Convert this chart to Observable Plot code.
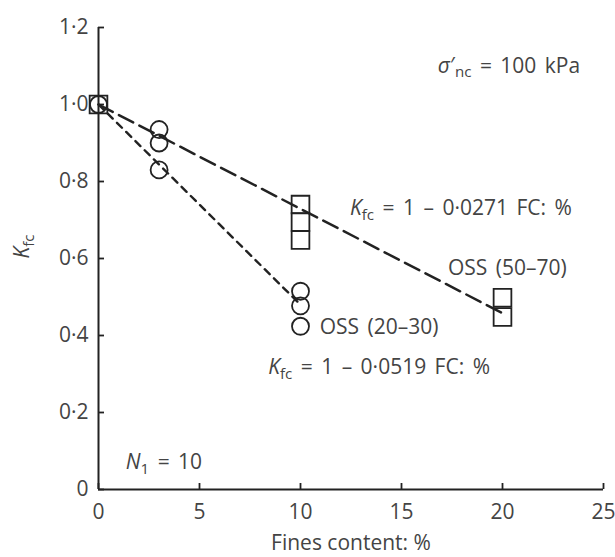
<!DOCTYPE html>
<html><head><meta charset="utf-8">
<script src="https://cdn.jsdelivr.net/npm/d3@7"></script>
<script src="https://cdn.jsdelivr.net/npm/@observablehq/plot@0.6"></script>
<style>
body{margin:0;background:#fff}
#chart svg{display:block}
</style>
</head><body><div id="chart"></div>
<script>
// ---- data ----
const squareFC = [0, 10, 10, 10, 20, 20];
const squareK  = [1.0, 0.74, 0.695, 0.648, 0.498, 0.448];
const circleFC = [0, 3, 3, 3, 10, 10, 10];
const circleK  = [1.0, 0.935, 0.90, 0.83, 0.515, 0.477, 0.424];
const fit50FC = [0, 20];
const fit50K  = [1.0, 0.458];
const fit20FC = [0, 10];
const fit20K  = [1.0, 0.48];
const xTicks = [0, 5, 10, 15, 20, 25];
const yTicks = [0, 0.2, 0.4, 0.6, 0.8, 1.0, 1.2];
const noteTexts = ["*σ*′_{nc} = 100 kPa", "*K*_{fc} = 1 – 0·0271 FC: %", "OSS (50–70)", "OSS (20–30)", "*K*_{fc} = 1 – 0·0519 FC: %", "*N*_{1} = 10"];
const noteFC = [16.8, 12.45, 17.3, 10.95, 8.4, 1.35];
const noteK  = [1.10, 0.73, 0.574, 0.421, 0.317, 0.07];
const xLabel = "Fines content: %";
const yLabel = "*K*_{fc}";

const squares = squareFC.map((x, i) => ({x, y: squareK[i]}));
const circles = circleFC.map((x, i) => ({x, y: circleK[i]}));
const fit50 = fit50FC.map((x, i) => ({x, y: fit50K[i]}));
const fit20 = fit20FC.map((x, i) => ({x, y: fit20K[i]}));
const notes = noteTexts.map((t, i) => ({t, x: noteFC[i], y: noteK[i]}));
const fmtY = d => d === 0 ? "0" : d.toFixed(1).replace(".", "·");
const fmtX = d => String(d);

const ink = "#222";
const txt = "#444";
const FONT = 21;

const plot = Plot.plot({
  width: 615, height: 557,
  marginLeft: 98, marginRight: 12, marginTop: 27, marginBottom: 68,
  style: {fontFamily: "'Open Sans', sans-serif", fontSize: FONT + "px", color: txt, background: "#fff"},
  x: {domain: [0, 25], ticks: xTicks, label: null},
  y: {domain: [0, 1.2], ticks: yTicks, label: null},
  marks: [
    Plot.axisX(xTicks, {tickSize: -6, tickPadding: 21, tickFormat: fmtX, stroke: ink, strokeWidth: 1.8, fill: txt, fontSize: FONT}),
    Plot.axisY(yTicks, {tickSize: -6, tickPadding: 16, tickFormat: fmtY, stroke: ink, strokeWidth: 1.8, fill: txt, fontSize: FONT}),
    Plot.ruleX([0], {stroke: ink, strokeWidth: 2}),
    Plot.ruleY([0], {stroke: ink, strokeWidth: 2}),
    Plot.line(fit50, {x: "x", y: "y", stroke: ink, strokeWidth: 2.5, strokeDasharray: "16,7"}),
    Plot.line(fit20, {x: "x", y: "y", stroke: ink, strokeWidth: 2.4, strokeDasharray: "7,6"}),
    Plot.dot(squares, {x: "x", y: "y", symbol: "square", r: 10, stroke: ink, strokeWidth: 1.8, fill: "none"}),
    Plot.dot(circles, {x: "x", y: "y", symbol: "circle", r: 8.5, stroke: ink, strokeWidth: 1.8, fill: "none"}),
    Plot.text(notes, {x: "x", y: "y", text: "t", textAnchor: "start", fill: txt, fontSize: FONT, className: "note"}),
    Plot.text([xLabel], {frameAnchor: "bottom", dy: 60, text: d => d, fill: txt, fontSize: FONT}),
    Plot.text([yLabel], {frameAnchor: "left", dx: -76, rotate: -90, text: d => d, fill: txt, fontSize: FONT})
  ]
});

// rich text: *italic*, _{subscript}
function richify(node) {
  const s = node.textContent;
  const parts = [];
  const re = /\*([^*]+)\*|_\{([^}]+)\}|([^*_]+)/g;
  let m;
  while ((m = re.exec(s))) {
    if (m[1]) parts.push({t: m[1], it: true});
    else if (m[2]) parts.push({t: m[2], sub: true});
    else parts.push({t: m[3]});
  }
  const el = d3.select(node);
  el.text(null);
  let lowered = false;
  for (const p of parts) {
    const ts = el.append("tspan").text(p.t);
    if (p.it) ts.attr("font-style", "italic");
    if (p.sub) { ts.attr("font-size", "0.72em").attr("dy", "0.3em"); lowered = true; }
    else if (lowered) { ts.attr("dy", "-0.216em"); lowered = false; }
  }
}
d3.select(plot).selectAll("text").each(function() { if (/\*|_\{/.test(this.textContent)) richify(this); });
d3.select(plot).selectAll(".note text").style("word-spacing", "3px");

document.getElementById("chart").appendChild(plot);
</script>
</body></html>
